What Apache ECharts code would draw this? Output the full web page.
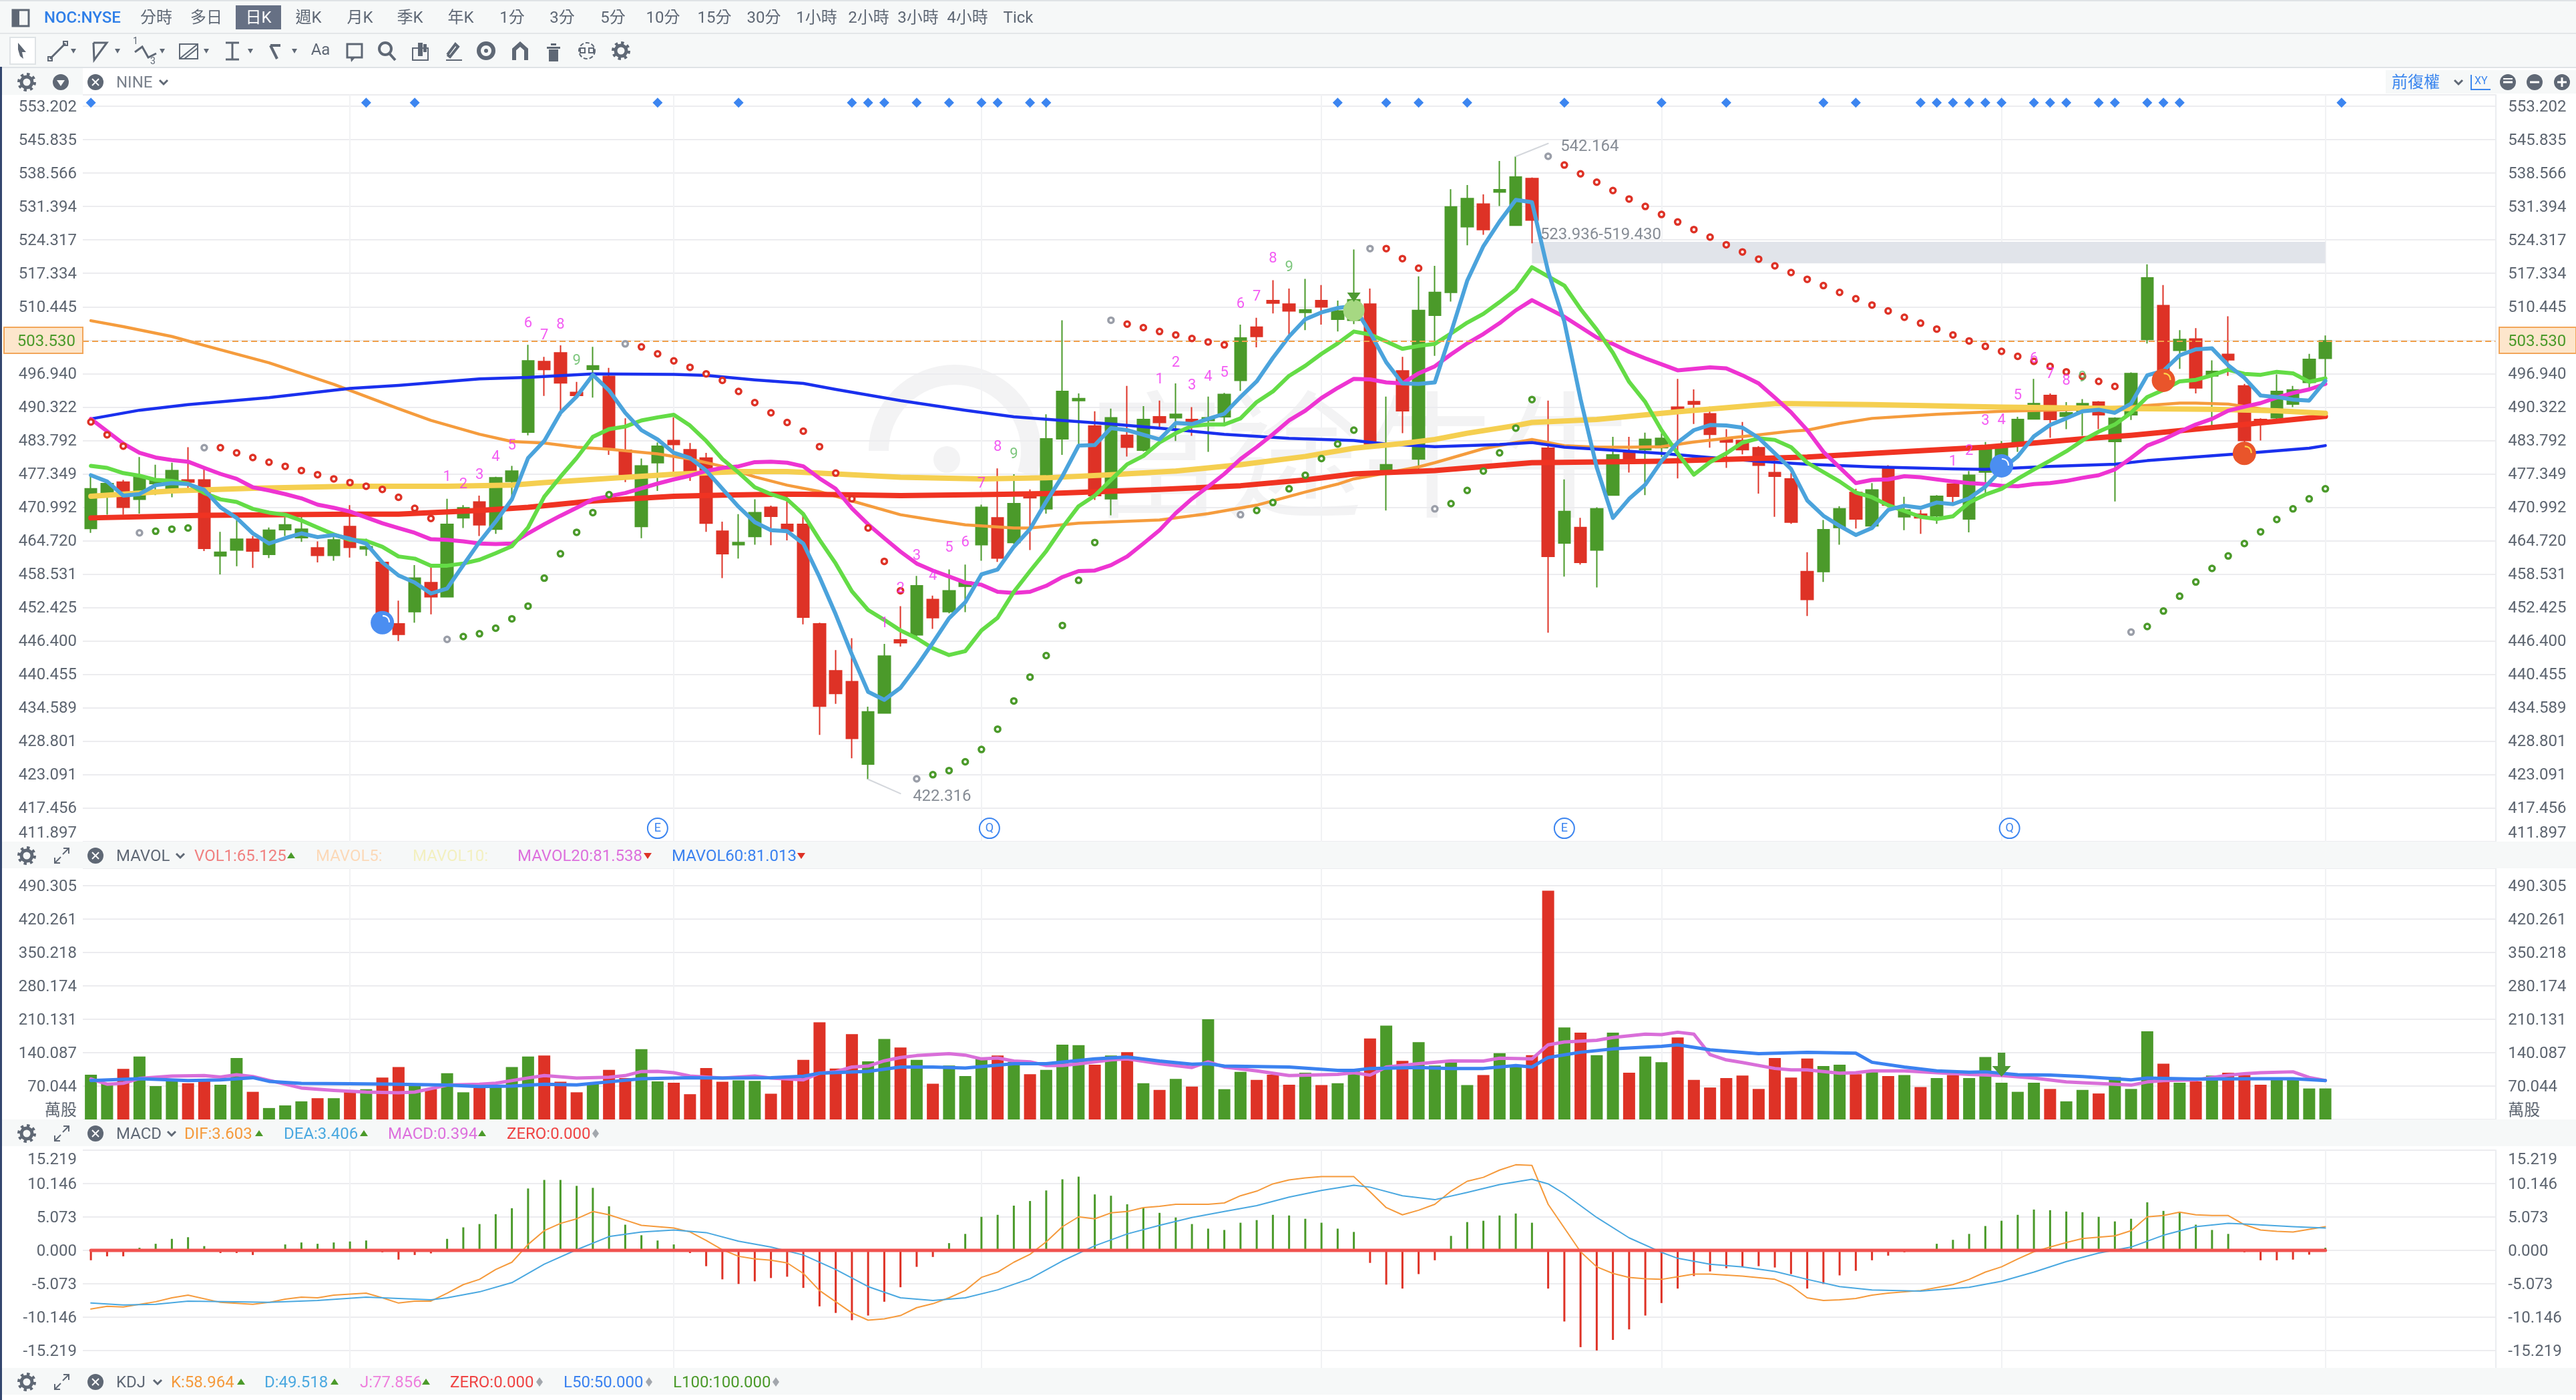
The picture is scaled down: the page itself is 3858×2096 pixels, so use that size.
<!DOCTYPE html>
<html>
<head>
<meta charset="utf-8">
<title>NOC:NYSE</title>
<script src="https://cdn.jsdelivr.net/npm/echarts@6/dist/echarts.min.js"></script>
<style>html,body{margin:0;height:100%;background:#fff}#chart{width:100vw;height:100vh}</style>
</head>
<body>
<div id="chart"></div>
<script>
// Daily candles, left to right
const opens = [467,473.8,475.8,472.5,475.5,474.5,476.2,476.2,461.9,463,
  465,462.2,466.8,465.3,463.4,462,467.4,463.2,460.7,449.5,
  451.7,457,454.4,469,472,466.9,475.9,485.4,499.35,501.1,
  493.2,497.8,496.4,481.9,467.4,479.5,483.8,482,480.4,466.5,
  464,465.5,471,467.8,467.8,449.5,441.1,439.2,424.9,433.7,
  446.6,447.5,453.9,451.7,456.3,464,469,464.4,473.2,470.7,
  484.1,491.6,486.6,472.6,484.8,481.9,488.4,488.2,487.9,487.7,
  488.4,495.6,506.3,511.7,511,509.3,511.7,507.9,507.7,511,
  477.6,497.5,480.2,508.7,513.4,527.1,531.9,534.5,527.4,537.4,
  482.3,464.3,467.2,463,473.3,481.4,482,482.4,490.3,491.4,
  489,484.2,483.8,482.4,477.6,476.4,459,459,467.2,473.8,
  467.5,478.5,469.2,469.7,469.4,475.4,468.8,477.7,478.5,483.2,
  488,492.6,488.5,489.5,491.3,483.6,488.8,503.8,510.7,501.6,
  503.9,496.5,500.8,494.5,487.9,488.2,490.9,495.2,500];
const closes = [474.5,475.5,471,476.8,476,478,475.8,463.3,462.6,465,
  462.8,466.7,467.7,466.9,462,464.9,463.5,463.6,451.2,447.6,
  457.8,454.4,467.8,470.9,467.7,476.6,477.9,499.5,497.76,495.1,
  492.6,498.5,482.4,477.2,478.9,482.7,483,477.9,468,462.3,
  464.4,470,469.3,466.5,450.7,434.9,437.1,429.3,433.9,443.7,
  446.1,456.4,450.6,455.5,457.1,471,461.5,471.7,472.8,484.1,
  493.4,492,473.2,488.2,482.5,487.9,487.3,488.9,487.3,488.2,
  492.8,504.1,504.4,511.2,509.6,509.8,510.4,509.6,511.9,483.1,
  479.1,489.6,509.7,513.4,531.3,533.1,526.5,535,537.7,528.5,
  461.8,470.2,460.7,470.7,481,479.5,484,484.2,489.8,490.9,
  485,483.5,482,479,476.9,468.2,453.9,466.8,470.7,468.8,
  474.3,471.4,470.5,469,473.1,473.1,477.1,482.1,482.3,487.9,
  491,487.9,489.2,491,488.8,488.1,496.94,516.4,496,503.8,
  494.1,497.4,499.7,483.8,487,493.4,493.7,499.8,503.53];
const lows = [466.2,469.6,469.6,469.8,473.3,472.9,474.3,462.8,458.5,460,
  459.7,461.5,465.6,464.5,460.7,461,461.6,461.9,450,446.4,
  449.7,451.2,454.4,467.1,465.6,466,472.1,484.8,492.5,488.6,
  492,492.2,481,475.8,465.2,474.1,477.7,476,466.4,457.8,
  461.4,464,463.9,464.8,449.4,429.9,435.3,425.9,422.316,433.7,
  445.4,446.6,448.6,451.4,451.6,461,460.8,464.1,463,469.8,
  481,482.9,472.4,469.5,480.7,481.7,486.2,483.7,484.7,481.6,
  487,493.5,502.2,509.1,504.7,505.7,506.8,505.4,506.9,483,
  470.4,485.2,478.3,500.5,511.5,523.2,525.4,531.5,527.4,523.6,
  447.9,458.1,460.3,456.1,473.3,477.6,473.3,480.6,476.5,487,
  482.4,478.5,481.1,473.6,469.2,467.9,450.9,457.1,464,467,
  467,471,466.7,466,467.9,471.9,466.3,473.5,478,481.6,
  487.9,484.3,486,484.7,486,472.1,487.8,503,495.5,497.9,
  493,486.3,496.5,483,483.8,488,490.3,494,496];
const highs = [477.3,475.9,476.2,480.6,479.1,479.5,482.5,478.2,466.4,468.8,
  465.6,467.2,469.1,470.1,464.6,465.5,471.4,465.1,460.9,453.7,
  460.2,459.9,472.6,471.4,473.2,476.8,478.9,502.7,500.3,502.6,
  495.3,502.3,498.1,488.1,480.3,483.4,488.3,483.3,481.4,468.3,
  469.7,472.5,471.3,473,470.1,449.7,444.8,446.9,434.8,445.9,
  452.7,458.2,454.6,459.4,460.3,471.5,478.4,477.3,474.4,488.9,
  507.7,493,489.5,490,494.5,490.5,491.6,495,490.3,492.4,
  493.1,506.8,508.2,515.9,514.2,516.2,514.9,511.7,522.3,514.2,
  492.4,500.3,516.7,518.9,535.1,536,534,541.2,542.164,537.6,
  491.6,476.3,469,471,484.5,484.5,485.3,485.2,495.9,493.8,
  490.4,486,487.4,482.7,480.5,477.5,462.6,468.6,471.2,474.5,
  475.6,479,473,470.5,473.3,475.5,477.9,483.5,483.7,488.4,
  495.9,493,491.3,491.9,491.5,488.3,497.2,519.2,514.9,505.7,
  506.1,499.6,508.5,494.9,488.1,496.8,494.5,500.9,504.6];

// Fast moving averages, one value per candle
const ma5 = [477.1,475.9,473.2,473.5,475.2,475.6,475.4,474.3,471,469,
  466.1,464.2,465.2,466.1,465.4,465.8,465.1,464.2,460.7,458.3,
  457,455,455.9,460.2,464.5,468.3,472.5,480.4,483.7,489.2,
  492.4,496.7,493.6,489.2,485.8,484,481.4,480.4,478,474.5,
  471.1,468.2,466.7,466.5,464.2,458,451.2,444,437.4,436,
  438.1,441.9,446.1,450.5,453.4,458.5,459.4,463.6,466.9,472.1,
  476.9,482.8,482.9,486.2,485.8,484.9,484,487.2,487,488,
  489,492.3,495.4,500.1,504.4,507.9,509.3,510.2,510.6,505.2,
  499.2,495,494.9,495.2,505.2,515.8,523,528.2,532.8,532.3,
  517.7,507.4,491.9,478.6,469,472.6,475.3,479.8,483.4,485.8,
  486.8,486.7,486.3,484.3,481.3,478.3,472.3,469.4,467.5,465.8,
  467.1,470.5,471.3,470.9,471.9,471.6,472.7,474.9,478.2,480.7,
  484.6,486.8,488.1,489.5,489.8,489.2,491,496.6,497.5,500.6,
  501.8,502,498.6,496.1,492.6,492.3,491.8,491.6,495.5];
const ma10 = [478.9,478.5,477.5,477,476.2,476,475.5,473.7,472.5,472,
  470.7,470,469.6,468.5,467.2,465.9,464.9,464.7,463.6,461.8,
  461.4,460.1,460.1,460.5,461.2,462.4,463.7,467.2,473,476.8,
  480.4,484.5,486,486.5,487.7,488.3,488.8,486.7,483.7,480.2,
  477.6,474.8,473.5,472.5,469.7,464.9,460.5,455.4,452,450.2,
  448.3,446.9,445.1,443.9,444.6,448.3,450.6,455.3,459.1,462.8,
  467.2,471.2,473.2,476.2,479.2,480.8,483.4,485.2,486.6,486.9,
  486.9,488.1,491.3,493.4,496.5,498.5,500.9,503,505.4,504.8,
  503.4,501.9,502.5,502.9,505,507.2,509,511.4,514,518.6,
  516.7,514.8,510,505.8,501.1,495.3,491.3,485.8,481.3,477.2,
  479.6,481.3,483.4,484.2,483.9,482.5,479.5,477.7,475.9,473.8,
  472.9,471.4,470.3,469.2,468.8,469.3,471.9,473.4,474.5,476.4,
  478.2,479.9,481.7,483.8,485.5,486.9,489.2,492.3,493.7,495.4,
  495.7,496.6,497.7,496.9,496.7,497.3,497,495.3,496];
const ma20 = [488,485.6,483.2,481.4,480.5,480,479.7,478.5,477.35,476.4,
  474.8,474.2,473.5,472.7,471.5,470.9,470.2,469.1,468,467.1,
  466.2,465,464.9,464.6,464.2,464.1,464.2,466.1,467.8,469.4,
  470.9,472.5,473.1,473.7,474.6,475.5,476.3,477,477.9,478.5,
  478.8,479.6,479.7,479.5,478.8,476.5,474.5,470.8,467.8,465.2,
  462.7,460.5,459.2,458.1,457,456.6,455.3,455.1,455.3,456.4,
  458,459.1,459.2,460.2,461.8,464.2,466.7,469.9,472.6,474.9,
  477.35,480.2,482.5,485,487.7,489.6,492.1,494.1,495.9,495.8,
  495.2,495,497,498.4,500.8,503,504.9,507.1,509.7,511.8,
  510.1,508.4,506.3,504.2,502.9,501.3,500,498.8,497.6,497.9,
  498.2,498,496.6,495,492.2,489.3,485.8,481.6,478.6,475.6,
  476.2,476.3,476.9,476.7,476.3,475.9,475.6,475.4,475.1,475,
  475.4,475.6,476,476.6,477.1,478.2,480.4,482.8,484,485.5,
  486.9,488,489.6,490.4,491.1,492.2,493.1,493.8,494.9];

// Slow moving averages, read at their bends as [candle, price]
const ma120 = [[0,507.6],[2,506.4],[5,504.4],[7,502.6],[11,499.1],[15,494.8],[19,490],[21,487.7],[24,485],[26,483.6],[28,483.3],[30,482.5],[32,482.1],[35,481.2],[37,480.2],[39,478.8],[41,476.8],[43,475.2],[45,474],[47,472.2],[50,469.6],[52,468.6],[54,467.7],[57,467.1],[58,467.1],[61,468],[66,468.6],[69,469.8],[72,471.4],[75,473.9],[77,475.4],[78,476.4],[80,477.5],[82,478.7],[83,479.5],[84,480.4],[86,482.2],[88,483.4],[89,484],[91,482.8],[93,482.5],[95,482.5],[97,482.6],[99,483.5],[101,484.2],[103,484.9],[105,485.6],[106,485.8],[108,487.1],[110,488.1],[114,488.9],[118,489.5],[122,489.8],[126,490.4],[129,491.1],[130,491.1],[132,490.9],[134,490],[136,489.5],[138,488.9]];
const ma60 = [[0,488],[3,489.7],[6,490.8],[11,492.2],[16,494],[19,494.6],[24,495.9],[27,496.2],[31,496.9],[36,496.8],[38,496.6],[41,495.7],[44,495],[46,493.8],[50,491.6],[54,489.7],[57,488.4],[60,487.7],[63,487],[66,486.2],[70,485],[74,484.2],[78,483.8],[80,483.1],[83,482.6],[87,483],[89,483.4],[91,482.5],[93,482.1],[97,481.3],[100,480.5],[103,479.8],[106,479.2],[110,478.7],[115,478.3],[117,478.2],[121,478.8],[125,479.2],[127,479.9],[133,481.3],[137,482.3],[138,482.8]];
const ma250 = [[0,473.1],[5,474.1],[10,474.6],[16,475],[22,475],[26,475.2],[28,475.7],[31,476.3],[36,477.3],[40,477.8],[43,477.8],[46,477.35],[50,476.7],[55,476.4],[59,476.6],[63,477.2],[67,477.9],[71,479.1],[75,480.7],[78,482.3],[81,483.2],[83,484],[85,485.2],[88,486.7],[89,487.3],[93,487.9],[98,489.4],[104,491],[105,491],[110,490.8],[118,490.3],[126,490],[131,489.9],[135,489.6],[138,489.1]];
const ma200 = [[0,469],[7,469.5],[16,469.7],[19,469.7],[21,470],[24,470.4],[27,471],[31,472.2],[36,473.1],[39,473.3],[43,473.5],[46,473.4],[50,473.2],[55,473.4],[59,473.6],[66,474.4],[71,475.1],[75,476.2],[78,477.35],[83,478],[89,479.5],[97,479.8],[106,480.6],[110,481.3],[117,482.5],[123,484.1],[126,484.8],[133,486.9],[138,488.5]];

// Parabolic dots; grey ones sit where the trend flips
const sar = [487.4,484.9,482.7,466.2,466.5,466.9,467.1,482.4,482.4,481.4,
  480.5,479.6,478.8,478,477.2,476.4,475.7,475,474.4,472.9,
  470.8,468.9,446.7,447.2,447.7,448.7,450.4,452.7,457.8,462.3,
  466.3,470,473.4,502.9,502.3,500.9,499.5,498.2,496.9,495.6,
  493.4,491.2,489.2,487.3,485.6,482.6,477.5,472.6,467.1,460.9,
  455.5,422.4,423.1,423.8,425.3,427.4,430.9,435.8,440,443.8,
  449.2,457.4,464.4,507.7,506.9,506.2,505.4,504.7,504,503.3,
  502.7,469.6,470.4,471.9,474.5,477.1,480.3,483.1,485.8,522.5,
  522.5,520.4,518.4,470.7,471.7,474.2,477.9,481.4,486.2,491.8,
  542.2,540.3,538.4,536.6,534.8,533,531.4,529.7,528.1,526.5,
  524.9,523.3,521.8,520.3,518.9,517.5,516.1,514.8,513.4,512.1,
  510.8,509.6,508.3,507.1,505.9,504.7,503.5,502.4,501.4,500.4,
  499.4,498.4,497.3,496.4,495.4,494.4,448,449,451.8,454.5,
  457.1,459.6,461.9,464.2,466.4,468.7,470.7,472.6,474.5];
const sarFlips = [3,7,22,33,51,63,71,79,83,90,126];

// Sequence counts as [candle, price, digit]
const nineCounts = [[22,476.7,'1'],[23,475.3,'2'],[24,477.1,'3'],[25,480.6,'4'],[26,482.8,'5'],[27,507,'6'],[28,504.6,'7'],[29,506.7,'8'],
  [49,449.5,'1'],[50,455.9,'2'],[51,461.9,'3'],[52,458.2,'4'],[53,463.4,'5'],[54,464.4,'6'],[55,475.4,'7'],[56,482.5,'8'],
  [66,495.7,'1'],[67,499.1,'2'],[68,494.5,'3'],[69,496.3,'4'],[70,497.1,'5'],[71,511,'6'],[72,512.5,'7'],[73,520.3,'8'],
  [115,479.7,'1'],[116,481.7,'2'],[117,487.5,'3'],[118,487.7,'4'],[119,492.5,'5'],[120,499.8,'6'],[121,496.8,'7'],[122,495.5,'8']];
const nineEnds = [[30,499.4,'9'],[57,481.1,'9'],[74,518.5,'9'],[123,496.1,'9']];

// Marks on the price pane
const diamondCandles = [0,17,20,35,40,47,48,49,51,53,55,56,58,59,77,80,82,85,91,97,101,107,109,113,114,115,116,117,118,120,121,122,124,125,127,128,129,139];
const monthStarts = [16,36,55,76,97,118,138];
const blueBalls = [[18,449.7],[118,478.9]];
const orangeBalls = [[128,495.6],[133,481.3]];
const eventMarks = [[35,'E'],[55,'Q'],[91,'E'],[118,'Q']];
const CURRENT_PRICE = 503.53;
const GAP_TOP = 523.936;
const GAP_BOTTOM = 519.43;
const priceTicks = ['411.897','417.456','423.091','428.801','434.589','440.455','446.400','452.425','458.531','464.720','470.992','477.349','483.792','490.322','496.940','503.530','510.445','517.334','524.317','531.394','538.566','545.835','553.202'];

// Volume pane
const volumes = [93.8,76,106,132,70,85,76,81,73,129,
  58,24,29.5,38,44.6,44.6,59,63.5,88,110,
  72,64,97,57,66,70,110,132,134,79,
  57,76,104,87,147.5,80,77,53,108,79,
  82,81,54,83,125,204,107,179,122,169,
  151,125,75,113,91,129,134,121,95,104,
  157,156,115,134,141,76,62,85,69,210,
  63.5,100,83,94,73,98,72,76,102,170,
  197,123,162,113,119,72,93,139,113,135,
  480,193,182,135,182,98,132,120,172,83,
  67,87,92,64,129,88,128,112,115,95,
  100,91,93,68,87,93,87,131,77,58,
  77,64,38,62,54.5,89,64,185,117,77,
  80,92,98,93,73,85,85,65,65.1];
const mavol20 = [[0,85],[1,74],[2,76],[3,86],[5,91],[7,92],[8,89],[9,94],[10,90],[12,74],[13,66],[15,61],[17,57.5],[19,56],[20,57.5],[22,72],[24,74],[25,76],[27,87],[28,92],[30,87],[32,88.5],[33,92],[34,100.6],[35,101],[36,98],[37,91],[39,87],[41,91],[42,87],[43,85],[44,83],[45,97],[46,100],[47,110],[48,112],[49,123],[50,130],[51,134],[53,138],[54,135],[55,127],[56,129],[57,122.5],[58,121],[59,113],[60,113],[61,116.5],[63,125],[64,127],[66,117],[68,109],[69,121],[70,110],[72,102],[74,92],[77,94.5],[78,98],[79,93],[80,110],[82,117],[84,123],[86,122.5],[87,128.6],[89,127],[90,156.6],[91,162.6],[93,166],[94,172],[96,179],[97,178],[98,183],[99,179],[100,136],[101,125],[102,119.5],[104,107],[105,104],[106,104],[107,100.6],[108,97],[109,98],[110,102],[112,102],[114,98],[116,94.5],[118,92],[120,87],[122,78.7],[123,77],[125,74],[126,72],[127,78.7],[128,81.7],[130,83],[132,93],[133,96],[134,98],[136,100],[137,88],[138,81.5]];
const mavol60 = [[0,81.7],[3,85.5],[6,81.7],[8,83],[10,87.7],[11,80],[13,75.6],[16,75],[19,74],[22,72],[24,69],[26,70],[28,74],[30,72.6],[32,79],[34,85.5],[37,87.7],[39,87],[42,87.7],[44,90.8],[45,97],[48,101],[50,110],[52,110],[54,108],[57,117],[59,117],[62,127],[64,131],[66,122.5],[68,116],[69,117],[70,112],[74,110],[77,103],[78,103],[79,107],[82,109],[84,107],[86,107],[88,113],[89,110],[90,130],[92,141],[94,148],[97,153.5],[98,156.6],[100,146],[103,138],[106,140.7],[109,139],[110,120],[112,110],[114,102],[116,99],[117,100],[119,93.8],[121,93],[123,90],[125,85.5],[126,83],[127,87],[130,84.7],[134,85.5],[136,85.5],[138,81.7]];
const VOL_STEP = 70.0436;
const volTicks = ['萬股','70.044','140.087','210.131','280.174','350.218','420.261','490.305'];

// MACD pane
const macdBars = [-1.5,-.9,-.9,.4,1,1.75,2,.65,-.4,-.4,
  -.7,.1,.9,1.2,1,1.2,1.35,1.5,-.3,-1.4,
  -.7,-.45,1.75,3.5,4,5.5,6.4,9.4,10.7,10.7,
  9.8,9.5,6.7,3.9,2.3,1.5,.9,-.4,-2.4,-4.4,
  -5.1,-4.7,-4.2,-4,-5.7,-8.5,-9.5,-10.6,-9.9,-7.8,
  -5.6,-2.5,-1,1.1,2.5,5.1,5.4,6.8,7.5,9.1,
  10.8,11.2,8.5,8.3,7,6.5,5.7,5,4,3.3,
  3.1,4.2,4.6,5.4,5.3,4.8,4.2,3.3,2.8,-1.9,
  -5.2,-5.8,-3.6,-1.5,2.2,4.3,4.5,5.3,5.6,4.2,
  -5.8,-10.8,-14.7,-15.2,-13.6,-12,-9.9,-8,-5.8,-3.9,
  -3.2,-2.7,-2.5,-2.4,-2.6,-3.6,-5.8,-5.1,-3.8,-3.1,
  -1.5,-.8,-.3,.1,1,1.6,2.5,3.7,4.5,5.4,
  6.2,6.1,5.9,5.8,5.1,4.4,4.8,7.3,6,5.8,
  3.9,3.1,2.5,-.3,-1.5,-1.5,-1.4,-.65,.394];
const macdDif = [[0,-8.9],[1,-8.5],[2,-8.6],[4,-7.8],[5,-7.2],[6,-6.8],[8,-7.9],[10,-8.2],[11,-7.9],[12,-7.4],[13,-7.1],[14,-7.2],[15,-6.8],[17,-6.5],[18,-7.2],[19,-8],[20,-7.7],[21,-7.7],[22,-6.5],[23,-5.2],[24,-4.4],[25,-2.9],[26,-1.8],[27,.9],[28,3],[29,4.1],[30,4.8],[31,5.9],[32,5.4],[33,4.6],[34,3.8],[35,3.6],[36,3.4],[37,2.8],[38,1.5],[39,.1],[40,-.9],[41,-1.3],[42,-1.5],[43,-1.9],[44,-3.5],[45,-6.1],[46,-7.8],[47,-9.5],[48,-10.6],[49,-10.4],[50,-9.9],[51,-8.7],[52,-8.1],[53,-7.2],[54,-6.1],[55,-4.1],[56,-3.3],[57,-1.8],[58,-.6],[59,1.3],[60,3.6],[61,5.1],[62,4.8],[63,5.7],[64,5.9],[65,6.5],[66,6.7],[67,7],[69,7],[70,7.2],[71,8.3],[72,9],[73,10.1],[74,10.7],[75,11],[76,11.2],[78,11.2],[79,8.9],[80,6.5],[81,5.4],[82,6.1],[83,7],[84,9],[85,10.5],[86,11.1],[87,12.2],[88,13],[89,12.9],[90,7],[91,3.4],[92,-.2],[93,-2.5],[94,-3.5],[95,-4.1],[96,-4.3],[97,-4.4],[98,-4],[99,-3.6],[100,-3.6],[102,-3.9],[104,-4.4],[105,-5.4],[106,-7.2],[107,-7.6],[108,-7.5],[109,-7.3],[110,-6.8],[111,-6.5],[113,-6.1],[115,-5.2],[116,-4.4],[117,-3.3],[118,-2.5],[119,-1.3],[120,-.2],[121,.5],[122,1.2],[123,1.8],[124,2],[125,2.2],[126,3],[127,5.1],[128,5.3],[129,5.8],[130,5.4],[131,5.3],[132,5.3],[133,3.9],[134,3.1],[135,2.9],[136,2.8],[137,3.2],[138,3.603]];
const macdDea = [[0,-8],[2,-8.3],[4,-8.2],[6,-7.7],[9,-7.8],[11,-7.9],[14,-7.6],[17,-7.1],[19,-7.3],[21,-7.5],[22,-7.2],[24,-6.3],[26,-4.9],[28,-2.1],[30,.1],[32,2.1],[34,2.8],[36,3.1],[38,2.7],[40,1.4],[42,.5],[44,-.7],[46,-2.9],[48,-5.5],[50,-7.2],[52,-7.6],[54,-7.2],[56,-6],[58,-4.3],[60,-1.6],[62,.7],[64,2.5],[66,3.8],[68,5],[70,5.9],[72,6.8],[74,8.1],[76,9.1],[78,9.9],[79,9.6],[81,8.3],[83,7.7],[85,8.8],[87,10],[89,10.8],[90,10.1],[91,8.6],[93,5],[95,1.9],[97,-.3],[98,-1.2],[100,-2.1],[102,-2.5],[104,-3.2],[106,-4.4],[108,-5.5],[110,-6],[113,-6.2],[116,-5.6],[118,-4.7],[120,-3.3],[122,-1.7],[124,-.4],[126,.5],[128,2.3],[130,3.6],[132,4.1],[133,4],[136,3.6],[138,3.406]];
const MACD_STEP = 5.073;
const MACD_MIN = -20.292;
const MACD_MAX = 15.219;
const macdTicks = ['-20.292','-15.219','-10.146','-5.073','0.000','5.073','10.146','15.219'];

const SLOT_COUNT = 149;
const GREEN = '#4b9a2a';
const RED = '#de3226';
const LABEL_COLOR = '#5d6570';
const FONT = 'Roboto, "Noto Sans CJK TC", sans-serif';
const categories = Array.from({ length: SLOT_COUNT }, (_, i) => String(i));

// The price pane is logarithmic: one axis unit is one tick step
const PRICE_LOW = 411.897;
const PRICE_STEP = Math.log(553.202 / PRICE_LOW) / 22;
const py = p => Math.log(p / PRICE_LOW) / PRICE_STEP;
const priceLine = knots => knots.map(([i, p]) => [i, py(p)]);

// Builds a category axis for one pane
function buildXAxis(gridIndex) {
  return {
    type: 'category', gridIndex, data: categories, boundaryGap: true,
    axisLine: { show: false }, axisTick: { show: false }, axisLabel: { show: false },
    splitLine: {
      show: true, alignWithLabel: true,
      interval: i => monthStarts.includes(i),
      lineStyle: { color: '#f1f2f4', width: 2 }
    }
  };
}

// Builds a left or right value axis; tick text sits a little below centre
function buildYAxis(gridIndex, right, min, max, interval, format) {
  return {
    type: 'value', gridIndex, min, max, interval, position: right ? 'right' : 'left', scale: true,
    axisLine: { show: right, lineStyle: { color: '#ebedf0', width: 2 } },
    axisTick: { show: false },
    splitLine: { show: !right, lineStyle: { color: '#ececef', width: 2 } },
    axisLabel: {
      margin: right ? 19 : 9, fontSize: 24, fontFamily: FONT, color: LABEL_COLOR,
      verticalAlignMinLabel: 'bottom', verticalAlignMaxLabel: 'top',
      formatter: v => {
        const text = format(v);
        return text ? '{t|' + text + '}' : '';
      },
      rich: { t: { fontSize: 24, fontFamily: FONT, color: LABEL_COLOR, padding: [3, 0, 0, 0] } }
    }
  };
}

// Builds a line series
function lineSeries(name, data, color, width, xAxisIndex, yAxisIndex) {
  return {
    name, type: 'line', data, xAxisIndex, yAxisIndex, symbol: 'none', silent: true,
    lineStyle: { color, width, cap: 'round', join: 'round' }
  };
}

// Builds a series of small text marks
function digitSeries(items, color) {
  return {
    type: 'scatter', symbolSize: 1, silent: true, z: 6,
    itemStyle: { color: 'rgba(0,0,0,0)' },
    data: items.map(([i, p, t]) => ({ value: [i, py(p)], text: t })),
    label: { show: true, position: 'inside', formatter: o => o.data.text, color, fontSize: 22, fontFamily: FONT }
  };
}

// Builds a grey annotation: a leader line from a candle to its text
function noteSeries(from, to, text) {
  return [
    lineSeries('note', [[from[0], py(from[1])], [to[0], py(to[1])]], '#d4d7dc', 2, 0, 0),
    {
      type: 'scatter', symbolSize: 1, silent: true, z: 6, itemStyle: { color: 'rgba(0,0,0,0)' },
      data: [[to[0], py(to[1])]],
      label: { show: true, position: 'right', distance: 14, offset: [4, 5], formatter: text, color: '#686f7a', fontSize: 24, fontFamily: FONT }
    }
  ];
}

// Builds round markers with a small glint on top
function ballSeries(items, color, glint) {
  const points = items.map(([i, p]) => [i, py(p)]);
  return [
    {
      type: 'scatter', symbol: 'circle', symbolSize: 35, silent: true, z: 7,
      itemStyle: { color, opacity: 1 }, data: points
    },
    {
      type: 'scatter', silent: true, z: 8, data: points,
      symbol: 'path://M0 0C6 0 10 4 10 10H8C8 5 5 2 0 2Z', symbolSize: 11, symbolOffset: [6, -6],
      itemStyle: { color: glint, opacity: 1 }
    }
  ];
}

const series = [
  {
    type: 'candlestick', barWidth: 18, silent: true,
    data: opens.map((o, i) => [py(o), py(closes[i]), py(lows[i]), py(highs[i])]),
    itemStyle: { color: GREEN, color0: RED, borderColor: GREEN, borderColor0: RED, borderWidth: 2 },
    markLine: {
      silent: true, symbol: 'none', label: { show: false },
      lineStyle: { color: '#f0a04b', width: 2, type: [9, 5] },
      data: [{ yAxis: py(CURRENT_PRICE) }]
    },
    markArea: {
      silent: true, itemStyle: { color: '#e1e4ea' },
      data: [[{ xAxis: 89, yAxis: py(GAP_TOP) }, { xAxis: 138, yAxis: py(GAP_BOTTOM) }]]
    }
  },
  lineSeries('MA120', priceLine(ma120), '#f59c3d', 4.5, 0, 0),
  lineSeries('MA60', priceLine(ma60), '#1a30ee', 4.5, 0, 0),
  lineSeries('MA200', priceLine(ma200), '#f03322', 8, 0, 0),
  lineSeries('MA250', priceLine(ma250), '#f5cf50', 8, 0, 0),
  lineSeries('MA20', ma20.map(py), '#ee34d2', 6, 0, 0),
  lineSeries('MA10', ma10.map(py), '#64dc46', 6, 0, 0),
  lineSeries('MA5', ma5.map(py), '#4ba3dc', 6, 0, 0),
  {
    type: 'scatter', symbol: 'circle', symbolSize: 8, silent: true, z: 5,
    data: sar.map((v, i) => ({
      value: [i, py(v)],
      itemStyle: {
        color: '#fff', borderWidth: 3.5, opacity: 1,
        borderColor: sarFlips.includes(i) ? '#9a9ea8' : (v < closes[i] ? GREEN : RED)
      }
    }))
  },
  {
    type: 'scatter', symbol: 'diamond', symbolSize: 15, silent: true,
    itemStyle: { color: '#3c85f0', opacity: 1 },
    data: diamondCandles.map(i => [i, py(554)])
  },
  digitSeries(nineCounts, '#f033f0'),
  digitSeries(nineEnds, '#5cb85c'),
  ...noteSeries([88, 542.164], [90, 545], '542.164'),
  ...noteSeries([48, 422.316], [50, 419.9], '422.316'),
  {
    type: 'scatter', symbolSize: 1, silent: true, z: 6, itemStyle: { color: 'rgba(0,0,0,0)' },
    data: [[89, py(525.8)]],
    label: { show: true, position: 'right', distance: 12, offset: [0, 3], formatter: GAP_TOP.toFixed(3) + '-' + GAP_BOTTOM.toFixed(3), color: '#686f7a', fontSize: 24, fontFamily: FONT }
  },
  ...ballSeries(blueBalls, '#4b8ef1', '#ffffff'),
  ...ballSeries(orangeBalls, '#e9552b', '#ffd84a'),
  {
    type: 'scatter', symbol: 'circle', symbolSize: 32, silent: true, z: 7,
    itemStyle: { color: '#a6d882', opacity: 1 }, data: [[78, py(509.7)]]
  },
  {
    type: 'scatter', symbol: 'triangle', symbolRotate: 180, symbolSize: [20, 14], silent: true, z: 8,
    itemStyle: { color: '#4f9a35', opacity: 1 }, data: [[78, py(512.4)]]
  },
  {
    type: 'scatter', symbol: 'emptyCircle', symbolSize: 30, silent: true,
    itemStyle: { color: '#3c85f0', borderWidth: 2, opacity: 1 },
    data: eventMarks.map(([i, t]) => ({ value: [i, py(414.1)], text: t, symbolOffset: [t === 'Q' ? 12 : 0, 0] })),
    label: { show: true, position: 'inside', formatter: o => o.data.text, color: '#3c85f0', fontSize: 18, fontFamily: FONT }
  },
  {
    type: 'bar', xAxisIndex: 1, yAxisIndex: 2, barWidth: 18, silent: true, data: volumes,
    itemStyle: { color: o => (closes[o.dataIndex] > opens[o.dataIndex] ? GREEN : RED) }
  },
  lineSeries('MAVOL20', mavol20, '#d96fd9', 5, 1, 2),
  lineSeries('MAVOL60', mavol60, '#3b82f0', 5, 1, 2),
  {
    type: 'scatter', xAxisIndex: 1, yAxisIndex: 2, silent: true, z: 6,
    symbol: 'path://M6 0H14V20H20L10 36L0 20H6Z', symbolSize: [28, 36],
    itemStyle: { color: '#4f9a35', opacity: 1 }, data: [[118, 115]]
  },
  {
    type: 'bar', xAxisIndex: 2, yAxisIndex: 4, barWidth: 3, silent: true, data: macdBars,
    itemStyle: { color: o => (o.value >= 0 ? GREEN : RED) }
  },
  lineSeries('DIF', macdDif, '#f59a3c', 2, 2, 4),
  lineSeries('DEA', macdDea, '#4aa8e0', 2, 2, 4),
  lineSeries('ZERO', [[0, 0], [138, 0]], '#f0524f', 5, 2, 4)
];

// Page chrome around the panes
const gfx = [];
const ICON = '#5f6875';

function rect(x, y, width, height, fill, z = 100) {
  gfx.push({ type: 'rect', silent: true, z, shape: { x, y, width, height }, style: { fill } });
}
function frame(x, y, width, height, stroke, lineWidth = 3) {
  gfx.push({ type: 'rect', silent: true, z: 101, shape: { x, y, width, height }, style: { fill: null, stroke, lineWidth } });
}
function txt(text, x, y, fill, align = 'left', size = 24, weight = 'normal') {
  gfx.push({
    type: 'text', silent: true, z: 102, x, y: y + 2,
    style: { text, fill, font: weight + ' ' + size + 'px ' + FONT, textAlign: align, textVerticalAlign: 'middle', align, verticalAlign: 'middle' }
  });
}
function poly(points, stroke, lineWidth = 3) {
  gfx.push({ type: 'polyline', silent: true, z: 101, shape: { points }, style: { stroke, lineWidth, fill: null } });
}
function shape(points, fill) {
  gfx.push({ type: 'polygon', silent: true, z: 101, shape: { points }, style: { fill } });
}
function disc(cx, cy, r, fill) {
  gfx.push({ type: 'circle', silent: true, z: 101, shape: { cx, cy, r }, style: { fill } });
}
function ring(cx, cy, r, stroke, lineWidth = 3, lineDash = null) {
  gfx.push({ type: 'circle', silent: true, z: 101, shape: { cx, cy, r }, style: { fill: null, stroke, lineWidth, lineDash } });
}
function gear(cx, cy) {
  ring(cx, cy, 11, ICON, 6, [4, 4.6]);
  ring(cx, cy, 8, ICON, 5);
}
function crossCircle(cx, cy) {
  disc(cx, cy, 12, ICON);
  poly([[cx - 5, cy - 5], [cx + 5, cy + 5]], '#fff', 2);
  poly([[cx + 5, cy - 5], [cx - 5, cy + 5]], '#fff', 2);
}
function chevron(cx, cy) {
  poly([[cx - 6, cy - 3], [cx, cy + 3], [cx + 6, cy - 3]], ICON, 3);
}
function caret(cx, cy) {
  shape([[cx - 4, cy - 3], [cx + 4, cy - 3], [cx, cy + 4]], ICON);
}
function trend(cx, cy, kind) {
  if (kind === 'up') shape([[cx - 6, cy + 4], [cx + 6, cy + 4], [cx, cy - 5]], GREEN);
  if (kind === 'down') shape([[cx - 6, cy - 4], [cx + 6, cy - 4], [cx, cy + 5]], RED);
  if (kind === 'flat') shape([[cx - 5, cy], [cx, cy - 7], [cx + 5, cy], [cx, cy + 7]], '#a3a7ad');
}

// Builds one pane header
function paneHeader(y, name, chevronX, items) {
  rect(0, y, 3858, 40, '#f6f8f8');
  const cy = y + 21;
  gear(40, cy);
  poly([[82, cy + 11], [91, cy + 2]], ICON, 2);
  poly([[82, cy + 3], [82, cy + 11], [90, cy + 11]], ICON, 2);
  poly([[94, cy - 2], [103, cy - 11]], ICON, 2);
  poly([[95, cy - 11], [103, cy - 11], [103, cy - 3]], ICON, 2);
  crossCircle(143, cy);
  txt(name, 174, cy, ICON);
  chevron(chevronX, cy);
  items.forEach(([text, x, color, mark, markX]) => {
    txt(text, x, cy, color);
    if (mark) trend(markX, cy, mark);
  });
}

rect(0, 0, 3858, 101, '#f6f8f8');
rect(0, 0, 3858, 2, '#dfe3e6');
rect(0, 49, 3858, 2, '#e3e6e8');
rect(0, 100, 3858, 2, '#dfe3e6');
rect(0, 102, 124, 40, '#f6f8f8');
rect(3573, 105, 285, 35, '#f6f8f8');
rect(0, 100, 3, 1996, '#33466e', 103);

// First toolbar row
frame(19, 15, 24, 24, ICON);
rect(20, 16, 9, 22, ICON, 101);
txt('NOC:NYSE', 66, 26, '#2f7fe8', 'left', 24, '500');
rect(353, 8, 68, 36, '#667084', 100);
const periods = [['分時', 234], ['多日', 309], ['日K', 387], ['週K', 462], ['月K', 539], ['季K', 614], ['年K', 690], ['1分', 767], ['3分', 842], ['5分', 918], ['10分', 993], ['15分', 1070], ['30分', 1144], ['1小時', 1223], ['2小時', 1301], ['3小時', 1375], ['4小時', 1449], ['Tick', 1525]];
periods.forEach(([t, x]) => txt(t, x, 26, t === '日K' ? '#fff' : ICON, 'center'));

// Second toolbar row
rect(15, 56, 38, 40, '#fff', 100);
frame(15, 56, 38, 40, '#dfe3e6', 2);
shape([[27, 64], [39, 78], [33, 78], [35, 88], [30, 84], [27, 74]], ICON);
poly([[75, 88], [98, 65]], ICON); frame(72, 85, 6, 6, ICON, 2); frame(95, 62, 6, 6, ICON, 2); caret(110, 76);
poly([[140, 64], [160, 64], [141, 90], [140, 64]], ICON); caret(176, 76);
poly([[202, 78], [213, 70], [222, 86], [234, 80]], ICON); txt('1', 203, 60, ICON, 'center', 14); txt('3', 229, 90, ICON, 'center', 14); caret(243, 76);
frame(269, 66, 27, 22, ICON, 2); poly([[269, 88], [296, 66]], ICON, 2); poly([[276, 88], [296, 72]], ICON, 2); caret(309, 76);
poly([[338, 64], [358, 64]], ICON); poly([[338, 89], [358, 89]], ICON); poly([[348, 64], [348, 89]], ICON); caret(375, 76);
poly([[415, 88], [405, 68]], ICON, 4); poly([[405, 68], [420, 68]], ICON, 4); caret(441, 76);
txt('Aa', 480, 74, ICON, 'center', 24);
frame(520, 66, 22, 20, ICON, 3); shape([[525, 86], [532, 86], [526, 93]], ICON);
ring(577, 73, 9, ICON, 4); poly([[583, 80], [592, 90]], ICON, 4);
frame(618, 72, 23, 18, ICON, 2); rect(626, 64, 7, 20, ICON, 101); rect(634, 66, 5, 12, ICON, 101);
poly([[670, 82], [682, 66], [686, 70], [674, 85], [670, 82]], ICON, 4); poly([[668, 90], [692, 90]], ICON, 2);
ring(728, 76, 11, ICON, 6); disc(728, 76, 3, ICON);
poly([[770, 90], [770, 74], [779, 66], [788, 74], [788, 90]], ICON, 6);
rect(819, 70, 20, 3, ICON, 101); rect(822, 74, 14, 18, ICON, 101); rect(825, 65, 8, 3, ICON, 101);
ring(879, 76, 12, ICON, 2, [6, 3]); frame(869, 72, 7, 7, ICON, 2); frame(882, 72, 7, 7, ICON, 2);
gear(930, 76);

// Third row, left and right ends
gear(40, 123);
disc(91, 123, 12, ICON);
shape([[85, 120], [97, 120], [91, 129]], '#f6f8f8');
crossCircle(143, 123);
txt('NINE', 174, 123, '#7a818c');
chevron(245, 123);
txt('前復權', 3582, 123, '#3b86ee', 'left', 24);
chevron(3682, 123);
poly([[3701, 112], [3701, 134], [3730, 134]], '#3b86ee', 2);
txt('XY', 3706, 120, '#3b86ee', 'left', 16);
[3756, 3796, 3837].forEach((x, i) => {
  disc(x, 123, 12, ICON);
  poly([[x - 7, 123], [x + 7, 123]], '#fff', 3);
  if (i === 2) poly([[x, 116], [x, 130]], '#fff', 3);
  if (i === 0) poly([[x - 7, 118], [x + 7, 118]], '#fff', 2);
});

// Pane headers
paneHeader(1260, 'MAVOL', 270, [
  ['VOL1:65.125', 291, '#f08080', 'up', 436],
  ['MAVOL5:', 473, '#fcd9b8'],
  ['MAVOL10:', 618, '#f3f0c0'],
  ['MAVOL20:81.538', 775, '#dd70dd', 'down', 970],
  ['MAVOL60:81.013', 1006, '#3b82f0', 'down', 1200]
]);
paneHeader(1676, 'MACD', 257, [
  ['DIF:3.603', 276, '#f59a3c', 'up', 388],
  ['DEA:3.406', 425, '#4aa8e0', 'up', 545],
  ['MACD:0.394', 581, '#dd70dd', 'up', 722],
  ['ZERO:0.000', 759, '#ef4444', 'flat', 892]
]);
paneHeader(2048, 'KDJ', 236, [
  ['K:58.964', 256, '#f59a3c', 'up', 361],
  ['D:49.518', 396, '#4aa8e0', 'up', 501],
  ['J:77.856', 539, '#ee80dd', 'up', 638],
  ['ZERO:0.000', 674, '#ef4444', 'flat', 808],
  ['L50:50.000', 844, '#3b82f0', 'flat', 972],
  ['L100:100.000', 1008, GREEN, 'flat', 1162]
]);

// Current price boxes on both axes
[[6, 118], [3743, 115]].forEach(([x, w]) => {
  rect(x, 490, w, 39, '#fde6cc');
  frame(x, 490, w, 39, '#f2a65a', 2);
  txt(CURRENT_PRICE.toFixed(3), x === 6 ? 113 : 3756, 510, GREEN, x === 6 ? 'right' : 'left');
});

// Faint watermark under the candles
gfx.push({ type: 'arc', silent: true, z: -5, shape: { cx: 1430, cy: 675, r: 114, startAngle: Math.PI, endAngle: Math.PI * 2.1, clockwise: true }, style: { fill: null, stroke: '#f3f3f4', lineWidth: 30 } });
gfx.push({ type: 'circle', silent: true, z: -5, shape: { cx: 1418, cy: 688, r: 20 }, style: { fill: '#f3f3f4' } });
gfx.push({ type: 'text', silent: true, z: -5, x: 1630, y: 680, style: { text: '富途牛牛', fill: '#f3f3f4', font: '205px "Noto Sans CJK TC"', textAlign: 'left', textVerticalAlign: 'middle', align: 'left', verticalAlign: 'middle' } });

const PANE_LEFT = 124;
const PANE_WIDTH = 24.25 * SLOT_COUNT;
const priceFormat = v => {
  const i = Math.round(v);
  if (Math.abs(v - i) > 0.001 || i === 15) return '';
  return priceTicks[i] || '';
};
const volFormat = v => {
  const i = v / VOL_STEP;
  return Math.abs(i - Math.round(i)) < 0.001 ? (volTicks[Math.round(i)] || '') : '';
};
const macdFormat = v => {
  const i = Math.round(v / MACD_STEP) + 4;
  if (i === 0 || Math.abs(v / MACD_STEP + 4 - i) > 0.001) return '';
  return macdTicks[i] || '';
};

const chart = echarts.init(document.getElementById('chart'));
chart.setOption({
  animation: false,
  backgroundColor: '#fff',
  grid: [
    { left: PANE_LEFT, top: 142, width: PANE_WIDTH, height: 1118 },
    { left: PANE_LEFT, top: 1300, width: PANE_WIDTH, height: 376 },
    { left: PANE_LEFT, top: 1722, width: PANE_WIDTH, height: 350 }
  ],
  xAxis: [buildXAxis(0), buildXAxis(1), buildXAxis(2)],
  yAxis: [
    buildYAxis(0, false, 0, 22.34, 1, priceFormat),
    buildYAxis(0, true, 0, 22.34, 1, priceFormat),
    buildYAxis(1, false, 0, 526.8, VOL_STEP, volFormat),
    buildYAxis(1, true, 0, 526.8, VOL_STEP, volFormat),
    buildYAxis(2, false, MACD_MIN, MACD_MAX, MACD_STEP, macdFormat),
    buildYAxis(2, true, MACD_MIN, MACD_MAX, MACD_STEP, macdFormat)
  ],
  series,
  graphic: gfx
});
window.addEventListener('resize', () => chart.resize());
</script>
</body>
</html>
